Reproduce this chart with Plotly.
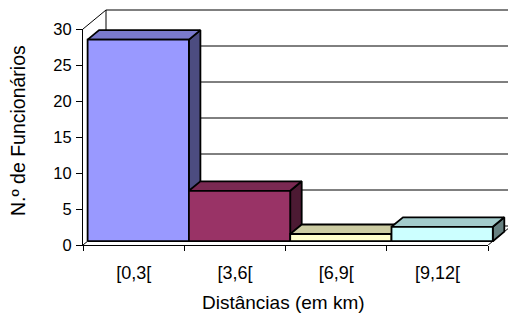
import plotly.graph_objects as go

# ---- data ----
categories = ["[0,3[", "[3,6[", "[6,9[", "[9,12["]
counts = [28, 7, 1, 2]
y_ticks = [0, 5, 10, 15, 20, 25, 30]
front_colors = ["#9999FF", "#993366", "#FFFFCC", "#CCFFFF"]
x_title = "Distâncias (em km)"
y_title = "N.º de Funcionários"

# ---- geometry ----
W, H = 508, 313
L, R, T, B = 83, 0, 8, 68
plot_w = W - L - R
plot_h = H - T - B
px_cat = 101.3
px_unit = 7.2
x_max = plot_w / px_cat
y_max = plot_h / px_unit
n = len(categories)
y_top = max(y_ticks)

DX = 23 / px_cat      # full depth, x (category units)
DY = 19 / px_unit     # full depth, y (value units)
F0, F1 = 0.2, 0.7     # bar front / back depth fractions


def shade(hexcol, k):
    hexcol = hexcol.lstrip("#")
    r, g, b = (int(hexcol[i:i + 2], 16) for i in (0, 2, 4))
    return "rgb(%d,%d,%d)" % (round(r * k), round(g * k), round(b * k))


fig = go.Figure()

# back wall, floor and side wall edges
wx, wy = [], []
for v in y_ticks:
    wx += [DX, n + DX + 1, None]
    wy += [v + DY, v + DY, None]
wx += [DX, DX, None, 0, DX, None, 0, DX, None, n, n + DX, None]
wy += [DY, y_top + DY, None, y_top, y_top + DY, None, 0, DY, None, 0, DY, None]
fig.add_trace(go.Scatter(x=wx, y=wy, mode="lines", xaxis="x2", yaxis="y2",
                         line=dict(color="black", width=1), hoverinfo="skip",
                         showlegend=False))

# 3D bars: side, top, front for each category
for i, (cat, v, col) in enumerate(zip(categories, counts, front_colors)):
    x0f, x1f = i + F0 * DX, i + 1 + F0 * DX
    y0f, y1f = F0 * DY, v + F0 * DY
    x0b, x1b = i + F1 * DX, i + 1 + F1 * DX
    y0b, y1b = F1 * DY, v + F1 * DY
    faces = [
        ([x1f, x1f, x1b, x1b, x1f], [y0f, y1f, y1b, y0b, y0f], shade(col, 0.5)),
        ([x0f, x1f, x1b, x0b, x0f], [y1f, y1f, y1b, y1b, y1f], shade(col, 0.8)),
        ([x0f, x1f, x1f, x0f, x0f], [y0f, y0f, y1f, y1f, y0f], col),
    ]
    for fx, fy, fc in faces:
        fig.add_trace(go.Scatter(x=fx, y=fy, mode="lines", fill="toself",
                                 fillcolor=fc, xaxis="x2", yaxis="y2",
                                 line=dict(color="black", width=1.8),
                                 name=cat, hoverinfo="skip", showlegend=False))

# invisible trace so the category-label axis is drawn
fig.add_trace(go.Scatter(x=[i + 0.5 for i in range(n)], y=[None] * n,
                         xaxis="x3", yaxis="y", mode="markers",
                         hoverinfo="skip", showlegend=False))

font_family = "Liberation Sans, Arial, sans-serif"
x_dom = n * px_cat / plot_w
y_dom = y_top / y_max

fig.update_layout(
    width=W, height=H,
    margin=dict(l=L, r=R, t=T, b=B),
    paper_bgcolor="white", plot_bgcolor="rgba(0,0,0,0)",
    font=dict(family=font_family, color="black"),
    showlegend=False,
    xaxis=dict(domain=[0, x_dom], range=[0, n], anchor="y",
               tickvals=list(range(n + 1)), ticks="outside", ticklen=5,
               tickcolor="black", showticklabels=False, showline=True,
               linecolor="black", linewidth=1, showgrid=False, zeroline=False,
               fixedrange=True),
    xaxis3=dict(overlaying="x", range=[0, n], anchor="y", side="bottom",
                tickvals=[i + 0.5 for i in range(n)], ticktext=categories,
                ticks="", ticklabelstandoff=15, showline=False,
                showgrid=False, zeroline=False,
                tickfont=dict(size=18, family=font_family, color="black")),
    yaxis=dict(domain=[0, y_dom], range=[0, y_top], anchor="x",
               tickvals=y_ticks, ticks="outside", ticklen=6, tickcolor="black",
               showline=True, linecolor="black", linewidth=1, showgrid=False,
               zeroline=False, ticklabelstandoff=1,
               tickfont=dict(size=16.5, family=font_family, color="black")),
    xaxis2=dict(domain=[0, 1], range=[0, x_max], anchor="y2", visible=False),
    yaxis2=dict(domain=[0, 1], range=[0, y_max], anchor="x2", visible=False),
    annotations=[
        dict(text=x_title, xref="x", yref="paper", x=n / 2 - 0.02,
             y=-(302.5 - (H - B)) / plot_h, xanchor="center", yanchor="middle",
             showarrow=False, font=dict(size=19, family=font_family, color="black")),
        dict(text=y_title, xref="paper", yref="paper", x=(18 - L) / plot_w,
             y=((H - B) - 131) / plot_h, xanchor="center", yanchor="middle",
             textangle=-90, showarrow=False,
             font=dict(size=19.5, family=font_family, color="black")),
    ],
)

fig.write_html("out.html",
               config={"displayModeBar": False, "staticPlot": True},
               post_script="document.body.style.margin='0';"
                           "document.body.style.overflow='hidden';")
